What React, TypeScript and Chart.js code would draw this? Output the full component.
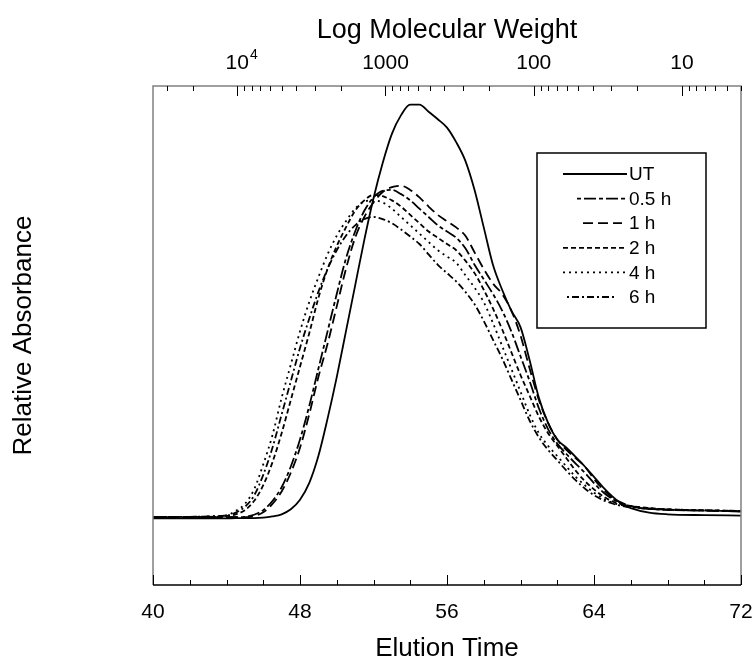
import React, { useEffect, useRef } from 'react';
import { Chart, registerables } from 'chart.js';

Chart.register(...registerables);

const elutionTime = [
  40, 42, 43, 44, 44.5, 45, 45.5, 46, 46.5, 47, 47.5, 48, 48.5, 49, 49.5, 50, 50.5, 51, 51.5, 52,
  52.5, 53, 53.5, 54, 54.5, 55, 55.5, 56, 56.5, 57, 57.5, 58, 58.5, 59, 59.5, 60, 60.5, 61, 61.5, 62,
  62.5, 63, 63.5, 64, 64.5, 65, 65.5, 66, 67, 68, 70, 72,
];

const seriesUT = [
  0, 0, 0, 0, 0.001, 0.001, 0.001, 0.002, 0.005, 0.01, 0.022, 0.045, 0.085, 0.15, 0.24, 0.34, 0.45, 0.56, 0.67, 0.77,
  0.855, 0.925, 0.97, 0.995, 0.995, 0.978, 0.96, 0.94, 0.905, 0.86, 0.79, 0.7, 0.61, 0.55, 0.5, 0.46, 0.38, 0.29, 0.23, 0.19,
  0.17, 0.148, 0.125, 0.1, 0.075, 0.053, 0.035, 0.025, 0.014, 0.01, 0.008, 0.007,
];

const series05h = [
  0.003, 0.003, 0.003, 0.003, 0.003, 0.004, 0.009, 0.02, 0.042, 0.075, 0.125, 0.19, 0.27, 0.36, 0.45, 0.54, 0.625, 0.69, 0.74, 0.772,
  0.788, 0.79, 0.78, 0.765, 0.745, 0.725, 0.705, 0.69, 0.675, 0.65, 0.61, 0.575, 0.54, 0.5, 0.45, 0.39, 0.33, 0.265, 0.215, 0.18,
  0.155, 0.132, 0.11, 0.085, 0.063, 0.047, 0.036, 0.029, 0.023, 0.021, 0.019, 0.017,
];

const series1h = [
  0.003, 0.003, 0.003, 0.003, 0.003, 0.003, 0.006, 0.015, 0.035, 0.065, 0.11, 0.17, 0.25, 0.34, 0.42, 0.51, 0.6, 0.675, 0.725, 0.76,
  0.785, 0.797, 0.8, 0.79, 0.772, 0.75, 0.73, 0.715, 0.7, 0.68, 0.64, 0.6, 0.565, 0.54, 0.5, 0.44, 0.36, 0.285, 0.23, 0.19,
  0.165, 0.145, 0.125, 0.095, 0.07, 0.05, 0.038, 0.03, 0.024, 0.021, 0.019, 0.017,
];

const series2h = [
  0.004, 0.004, 0.004, 0.006, 0.01, 0.02, 0.042, 0.08, 0.135, 0.205, 0.285, 0.365, 0.445, 0.53, 0.6, 0.655, 0.7, 0.74, 0.765, 0.778,
  0.775, 0.765, 0.75, 0.73, 0.71, 0.69, 0.675, 0.66, 0.645, 0.62, 0.59, 0.55, 0.505, 0.455, 0.4, 0.345, 0.295, 0.245, 0.205, 0.175,
  0.145, 0.115, 0.09, 0.07, 0.053, 0.041, 0.034, 0.03, 0.025, 0.022, 0.02, 0.018,
];

const series4h = [
  0.004, 0.004, 0.005, 0.008, 0.018, 0.035, 0.07, 0.13, 0.2, 0.29, 0.37, 0.45, 0.52, 0.58, 0.635, 0.68, 0.715, 0.745, 0.762, 0.765,
  0.76, 0.745, 0.725, 0.705, 0.685, 0.665, 0.645, 0.63, 0.615, 0.585, 0.555, 0.52, 0.47, 0.415, 0.36, 0.305, 0.25, 0.205, 0.175, 0.15,
  0.125, 0.1, 0.08, 0.062, 0.048, 0.038, 0.032, 0.028, 0.024, 0.022, 0.02, 0.018,
];

const series6h = [
  0.004, 0.004, 0.005, 0.007, 0.014, 0.028, 0.055, 0.105, 0.17, 0.25, 0.33, 0.41, 0.48, 0.545, 0.6, 0.645, 0.68, 0.705, 0.72, 0.725,
  0.72, 0.71, 0.695, 0.678, 0.66, 0.635, 0.61, 0.59, 0.57, 0.545, 0.515, 0.475, 0.43, 0.385, 0.335, 0.285, 0.235, 0.195, 0.165, 0.14,
  0.115, 0.092, 0.072, 0.056, 0.044, 0.036, 0.03, 0.027, 0.023, 0.021, 0.019, 0.017,
];

const seriesLabels = ['UT', '0.5 h', '1 h', '2 h', '4 h', '6 h'];
const bottomTickValues = [40, 48, 56, 64, 72];
const bottomMinorStep = 2;
const topTickValues = [10000, 1000, 100, 10];
// [base, superscript]
const topTickLabels: [string, string][] = [['10', '4'], ['1000', ''], ['100', ''], ['10', '']];

const FONT = "'Liberation Sans', Arial, Helvetica, sans-serif";

export default function App() {
  const ref = useRef<HTMLCanvasElement>(null);

  useEffect(() => {
    if (!ref.current) return;
    const dashes: number[][] = [[], [4, 3, 12, 3], [10, 5], [5, 3], [2, 4], [2, 3, 7, 3]];
    const series = [seriesUT, series05h, series1h, series2h, series4h, series6h];
    const datasets = series.map((vals, i) => ({
      label: seriesLabels[i],
      data: elutionTime.map((t, j) => ({ x: t, y: vals[j] })),
      borderColor: '#000',
      backgroundColor: '#000',
      borderWidth: 1.8,
      borderDash: dashes[i],
      pointRadius: 0,
      fill: false,
      cubicInterpolationMode: 'monotone' as const,
      xAxisID: 'x',
      yAxisID: 'y',
    }));

    const framePlugin = {
      id: 'frameTicks',
      afterDraw(chart: any) {
        const ctx = chart.ctx as CanvasRenderingContext2D;
        const a = chart.chartArea;
        const xs = chart.scales.x;
        const xt = chart.scales.x2;
        ctx.save();
        // frame
        ctx.strokeStyle = '#808080';
        ctx.lineWidth = 1.5;
        ctx.beginPath();
        ctx.moveTo(a.left, a.bottom);
        ctx.lineTo(a.left, a.top);
        ctx.lineTo(a.right, a.top);
        ctx.lineTo(a.right, a.bottom);
        ctx.stroke();
        ctx.strokeStyle = '#000';
        ctx.beginPath();
        ctx.moveTo(a.left, a.bottom);
        ctx.lineTo(a.right, a.bottom);
        ctx.stroke();
        // bottom ticks (inward)
        ctx.lineWidth = 1;
        ctx.beginPath();
        for (let v = xs.min; v <= xs.max + 1e-9; v += bottomMinorStep) {
          const px = Math.round(xs.getPixelForValue(v)) + 0.5;
          const major = bottomTickValues.includes(v);
          const len = major ? 10 : 5;
          ctx.moveTo(px, a.bottom);
          ctx.lineTo(px, a.bottom - len);
        }
        ctx.stroke();
        // top log ticks (inward)
        ctx.beginPath();
        for (let d = 0; d <= 4; d++) {
          for (let m = 1; m <= 9; m++) {
            const v = m * Math.pow(10, d);
            if (v < xt.min || v > xt.max) continue;
            const px = Math.round(xt.getPixelForValue(v)) + 0.5;
            const len = m === 1 ? 10 : 5;
            ctx.moveTo(px, a.top);
            ctx.lineTo(px, a.top + len);
          }
        }
        ctx.stroke();
        // top tick labels (with superscript exponent)
        ctx.fillStyle = '#000';
        ctx.textBaseline = 'middle';
        const ly = a.top - 23;
        topTickValues.forEach((v, i) => {
          const px = xt.getPixelForValue(v);
          const [base, sup] = topTickLabels[i];
          ctx.font = `21px ${FONT}`;
          ctx.textAlign = 'center';
          ctx.fillText(base, px, ly);
          if (sup) {
            const w = ctx.measureText(base).width;
            ctx.font = `14px ${FONT}`;
            ctx.textAlign = 'left';
            ctx.fillText(sup, px + w / 2 + 1, ly - 8);
          }
        });
        ctx.restore();
      },
    };

    const legendPlugin = {
      id: 'boxLegend',
      afterDraw(chart: any) {
        const ctx = chart.ctx as CanvasRenderingContext2D;
        const a = chart.chartArea;
        const bx = a.left + 384;
        const by = a.top + 67;
        const bw = 169;
        const bh = 175;
        ctx.save();
        ctx.fillStyle = '#fff';
        ctx.fillRect(bx, by, bw, bh);
        ctx.strokeStyle = '#000';
        ctx.lineWidth = 1.5;
        ctx.strokeRect(bx, by, bw, bh);
        const starts = [26, 40, 46, 26, 26, 30];
        const ends = [90, 90, 85, 90, 90, 80];
        ctx.font = `19px ${FONT}`;
        ctx.textBaseline = 'middle';
        ctx.textAlign = 'left';
        ctx.fillStyle = '#000';
        chart.data.datasets.forEach((ds: any, i: number) => {
          const ry = by + 21 + i * 24.6;
          ctx.beginPath();
          ctx.lineWidth = 1.8;
          ctx.strokeStyle = '#000';
          ctx.setLineDash(ds.borderDash || []);
          ctx.moveTo(bx + starts[i], ry);
          ctx.lineTo(bx + ends[i], ry);
          ctx.stroke();
          ctx.setLineDash([]);
          ctx.fillText(ds.label, bx + 92, ry + 1);
        });
        ctx.restore();
      },
    };

    const chart = new Chart(ref.current, {
      type: 'line',
      data: { datasets },
      options: {
        animation: false,
        responsive: true,
        maintainAspectRatio: false,
        layout: { padding: { left: 0, right: 15, top: 0, bottom: 0 } },
        plugins: { legend: { display: false }, tooltip: { enabled: false } },
        scales: {
          x: {
            type: 'linear',
            position: 'bottom',
            min: 40,
            max: 72,
            afterBuildTicks: (s: any) => {
              s.ticks = bottomTickValues.map((v) => ({ value: v }));
            },
            ticks: {
              font: { family: FONT, size: 21 },
              color: '#000',
              padding: 15,
              maxRotation: 0,
              autoSkip: false,
            },
            grid: { display: false, drawTicks: false },
            border: { display: false },
            title: {
              display: true,
              text: 'Elution Time',
              font: { family: FONT, size: 26 },
              color: '#000',
              padding: { top: 0, bottom: 5 },
            },
            afterFit: (s: any) => {
              s.height = 84;
              s.paddingLeft = 0;
              s.paddingRight = 0;
            },
          },
          x2: {
            type: 'logarithmic',
            position: 'top',
            reverse: true,
            min: 4,
            max: 37000,
            ticks: { display: false },
            grid: { display: false, drawTicks: false },
            border: { display: false },
            title: {
              display: true,
              text: 'Log Molecular Weight',
              font: { family: FONT, size: 27 },
              color: '#000',
              padding: { top: 14, bottom: 0 },
            },
            afterFit: (s: any) => {
              s.height = 86;
              s.paddingLeft = 0;
              s.paddingRight = 0;
            },
          },
          y: {
            type: 'linear',
            min: -0.16,
            max: 1.04,
            ticks: { display: false },
            grid: { display: false, drawTicks: false },
            border: { display: false },
            title: {
              display: true,
              text: 'Relative Absorbance',
              font: { family: FONT, size: 26 },
              color: '#000',
              padding: { top: 8, bottom: 0 },
            },
            afterFit: (s: any) => {
              s.width = 153;
            },
          },
        },
      },
      plugins: [framePlugin, legendPlugin],
    });
    return () => chart.destroy();
  }, []);

  return (
    <div style={{ position: 'fixed', left: 0, top: 0, width: 756, height: 669, background: '#fff' }}>
      <canvas ref={ref} />
    </div>
  );
}
